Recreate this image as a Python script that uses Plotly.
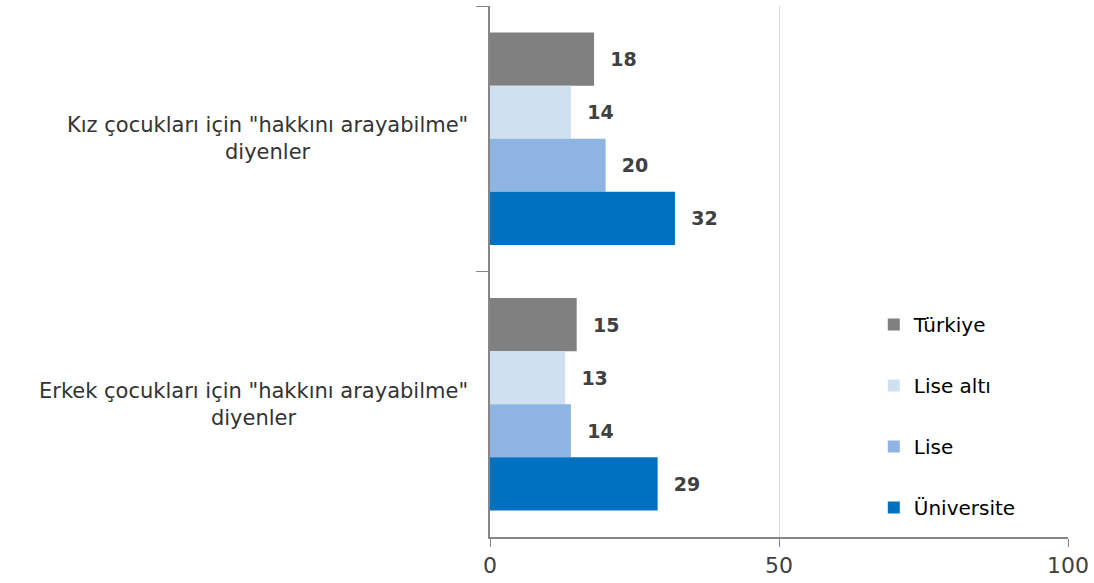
import plotly.graph_objects as go

categories = ['Kız çocukları için "hakkını arayabilme"<br>diyenler',
              'Erkek çocukları için "hakkını arayabilme"<br>diyenler']
series_names = ["Türkiye", "Lise altı", "Lise", "Üniversite"]
values = {
    "Türkiye": [18, 15],
    "Lise altı": [14, 13],
    "Lise": [20, 14],
    "Üniversite": [32, 29],
}
colors = ["#808080", "#cfe0f1", "#8db4e2", "#0070c0"]
x_ticks = [0, 50, 100]

cat_ids = ["Kız", "Erkek"]

fig = go.Figure()
for name, col in zip(series_names, colors):
    fig.add_trace(go.Bar(
        y=cat_ids, x=values[name], name=name, orientation="h",
        marker=dict(color=col, line=dict(width=0)),
        text=values[name], texttemplate="  %{x}", textposition="outside",
        textfont=dict(family="DejaVu Sans", size=19, color="#404040", weight="bold"),
        cliponaxis=False, legendgroup=name,
    ))

for cid, label in zip(cat_ids, categories):
    fig.add_annotation(
        x=-0.035, xref="paper", y=cid, yref="y", text=label, showarrow=False,
        xanchor="right", yanchor="middle", align="center",
        font=dict(family="DejaVu Sans", size=21, color="#333333"),
    )

fig.update_layout(
    width=1094, height=583,
    margin=dict(l=490, r=26, t=6, b=46),
    paper_bgcolor="white", plot_bgcolor="white",
    barmode="group", bargap=0.2, bargroupgap=0,
    showlegend=True,
    legend=dict(x=0.664, y=0.437, xanchor="left", yanchor="top",
                font=dict(family="DejaVu Sans", size=20, color="#000000"),
                traceorder="grouped", tracegroupgap=32, bgcolor="rgba(0,0,0,0)"),
    xaxis=dict(range=[0, 100], tickvals=x_ticks, showgrid=True, gridcolor="#d9d9d9",
               gridwidth=1, showline=True, linecolor="#868686", linewidth=1.5,
               ticks="outside", ticklen=8, tickcolor="#868686", zeroline=False,
               tickfont=dict(family="DejaVu Sans", size=22, color="#404040")),
    yaxis=dict(autorange="reversed", showticklabels=False, showline=True,
               linecolor="#868686", linewidth=1.5, ticks="outside", ticklen=12,
               tickcolor="#868686", tickson="boundaries", showgrid=False),
)

fig.write_html("out.html", config={"displayModeBar": False},
               post_script="document.body.style.margin='0';")
